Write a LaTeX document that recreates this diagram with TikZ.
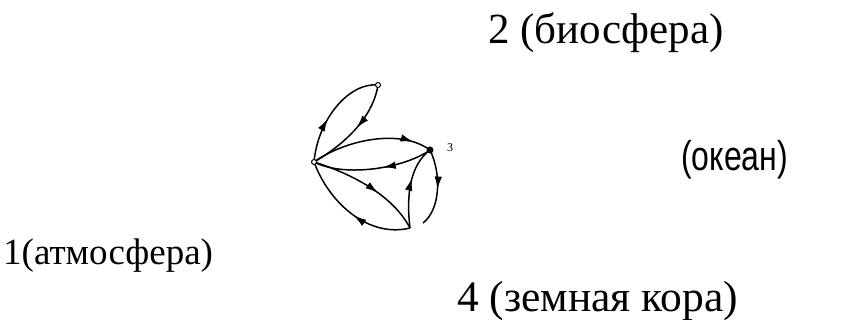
\documentclass[tikz,border=0pt]{standalone}
\usepackage{fontspec}
\setmainfont{Liberation Serif}
\newfontfamily\serifface{Liberation Serif}
\newfontfamily\handfont{Liberation Sans}
\usetikzlibrary{arrows.meta,decorations.markings}
\tikzset{
  edge/.style={line width=1.5pt},
  midarrow/.style={postaction={decorate},decoration={markings,
     mark=at position #1 with {\arrow{Latex[length=13pt,width=7.5pt]}}}},
  opendot/.style={circle,draw,line width=1pt,fill=white,inner sep=0pt,minimum size=5pt},
  fulldot/.style={circle,fill=black,inner sep=0pt,minimum size=7pt},
  biglabel/.style={inner sep=0pt,font=\serifface\fontsize{#1}{#1}\selectfont},
}
\begin{document}
\begin{tikzpicture}[x=1pt,y=-1pt]
\useasboundingbox (0,0) rectangle (849,320);
% vertices
\coordinate (v1) at (314,162);
\coordinate (v2) at (378,85);
\coordinate (v3) at (430,150);
\coordinate (v4) at (410,228);
% edges
\draw[edge,midarrow=0.42] (v1) .. controls (318,118) and (350,82) .. (v2);
\draw[edge,midarrow=0.47] (v2) .. controls (374,112) and (352,140) .. (v1);
\draw[edge,midarrow=0.85] (v1) .. controls (345,140) and (400,128) .. (v3);
\draw[edge,midarrow=0.42] (v3) .. controls (405,168) and (345,178) .. (v1);
\draw[edge,midarrow=0.6] (v1) .. controls (340,170) and (390,190) .. (v4);
\draw[edge,midarrow=0.47] (v4) .. controls (370,238) and (330,205) .. (v1);
\draw[edge,midarrow=0.6] (v4) .. controls (406,195) and (410,165) .. (v3);
\draw[edge,midarrow=0.52] (v3) .. controls (442,175) and (440,210) .. (423,223);
% vertex marks
\node[opendot] (n1) at (v1) {};
\node[opendot] (n2) at (v2) {};
\node[fulldot] (n3) at (v3) {};
\node[inner sep=0pt,font=\serifface\fontsize{12}{12}\selectfont] (l3) at (450,148) {3};
% labels
\node[biglabel=43,anchor=base west] (t2) at (488,44) {2 (биосфера)};
\node[biglabel=37,anchor=base west] (t1) at (3,265) {1(атмосфера)};
\node[biglabel=43.5,anchor=base west] (t4) at (457,312) {4 (земная кора)};
\node[inner sep=0pt,anchor=west,yscale=1.3,font=\handfont\fontsize{32}{34}\selectfont] (t0) at (681,160) {(океан)};
\end{tikzpicture}
\end{document}
